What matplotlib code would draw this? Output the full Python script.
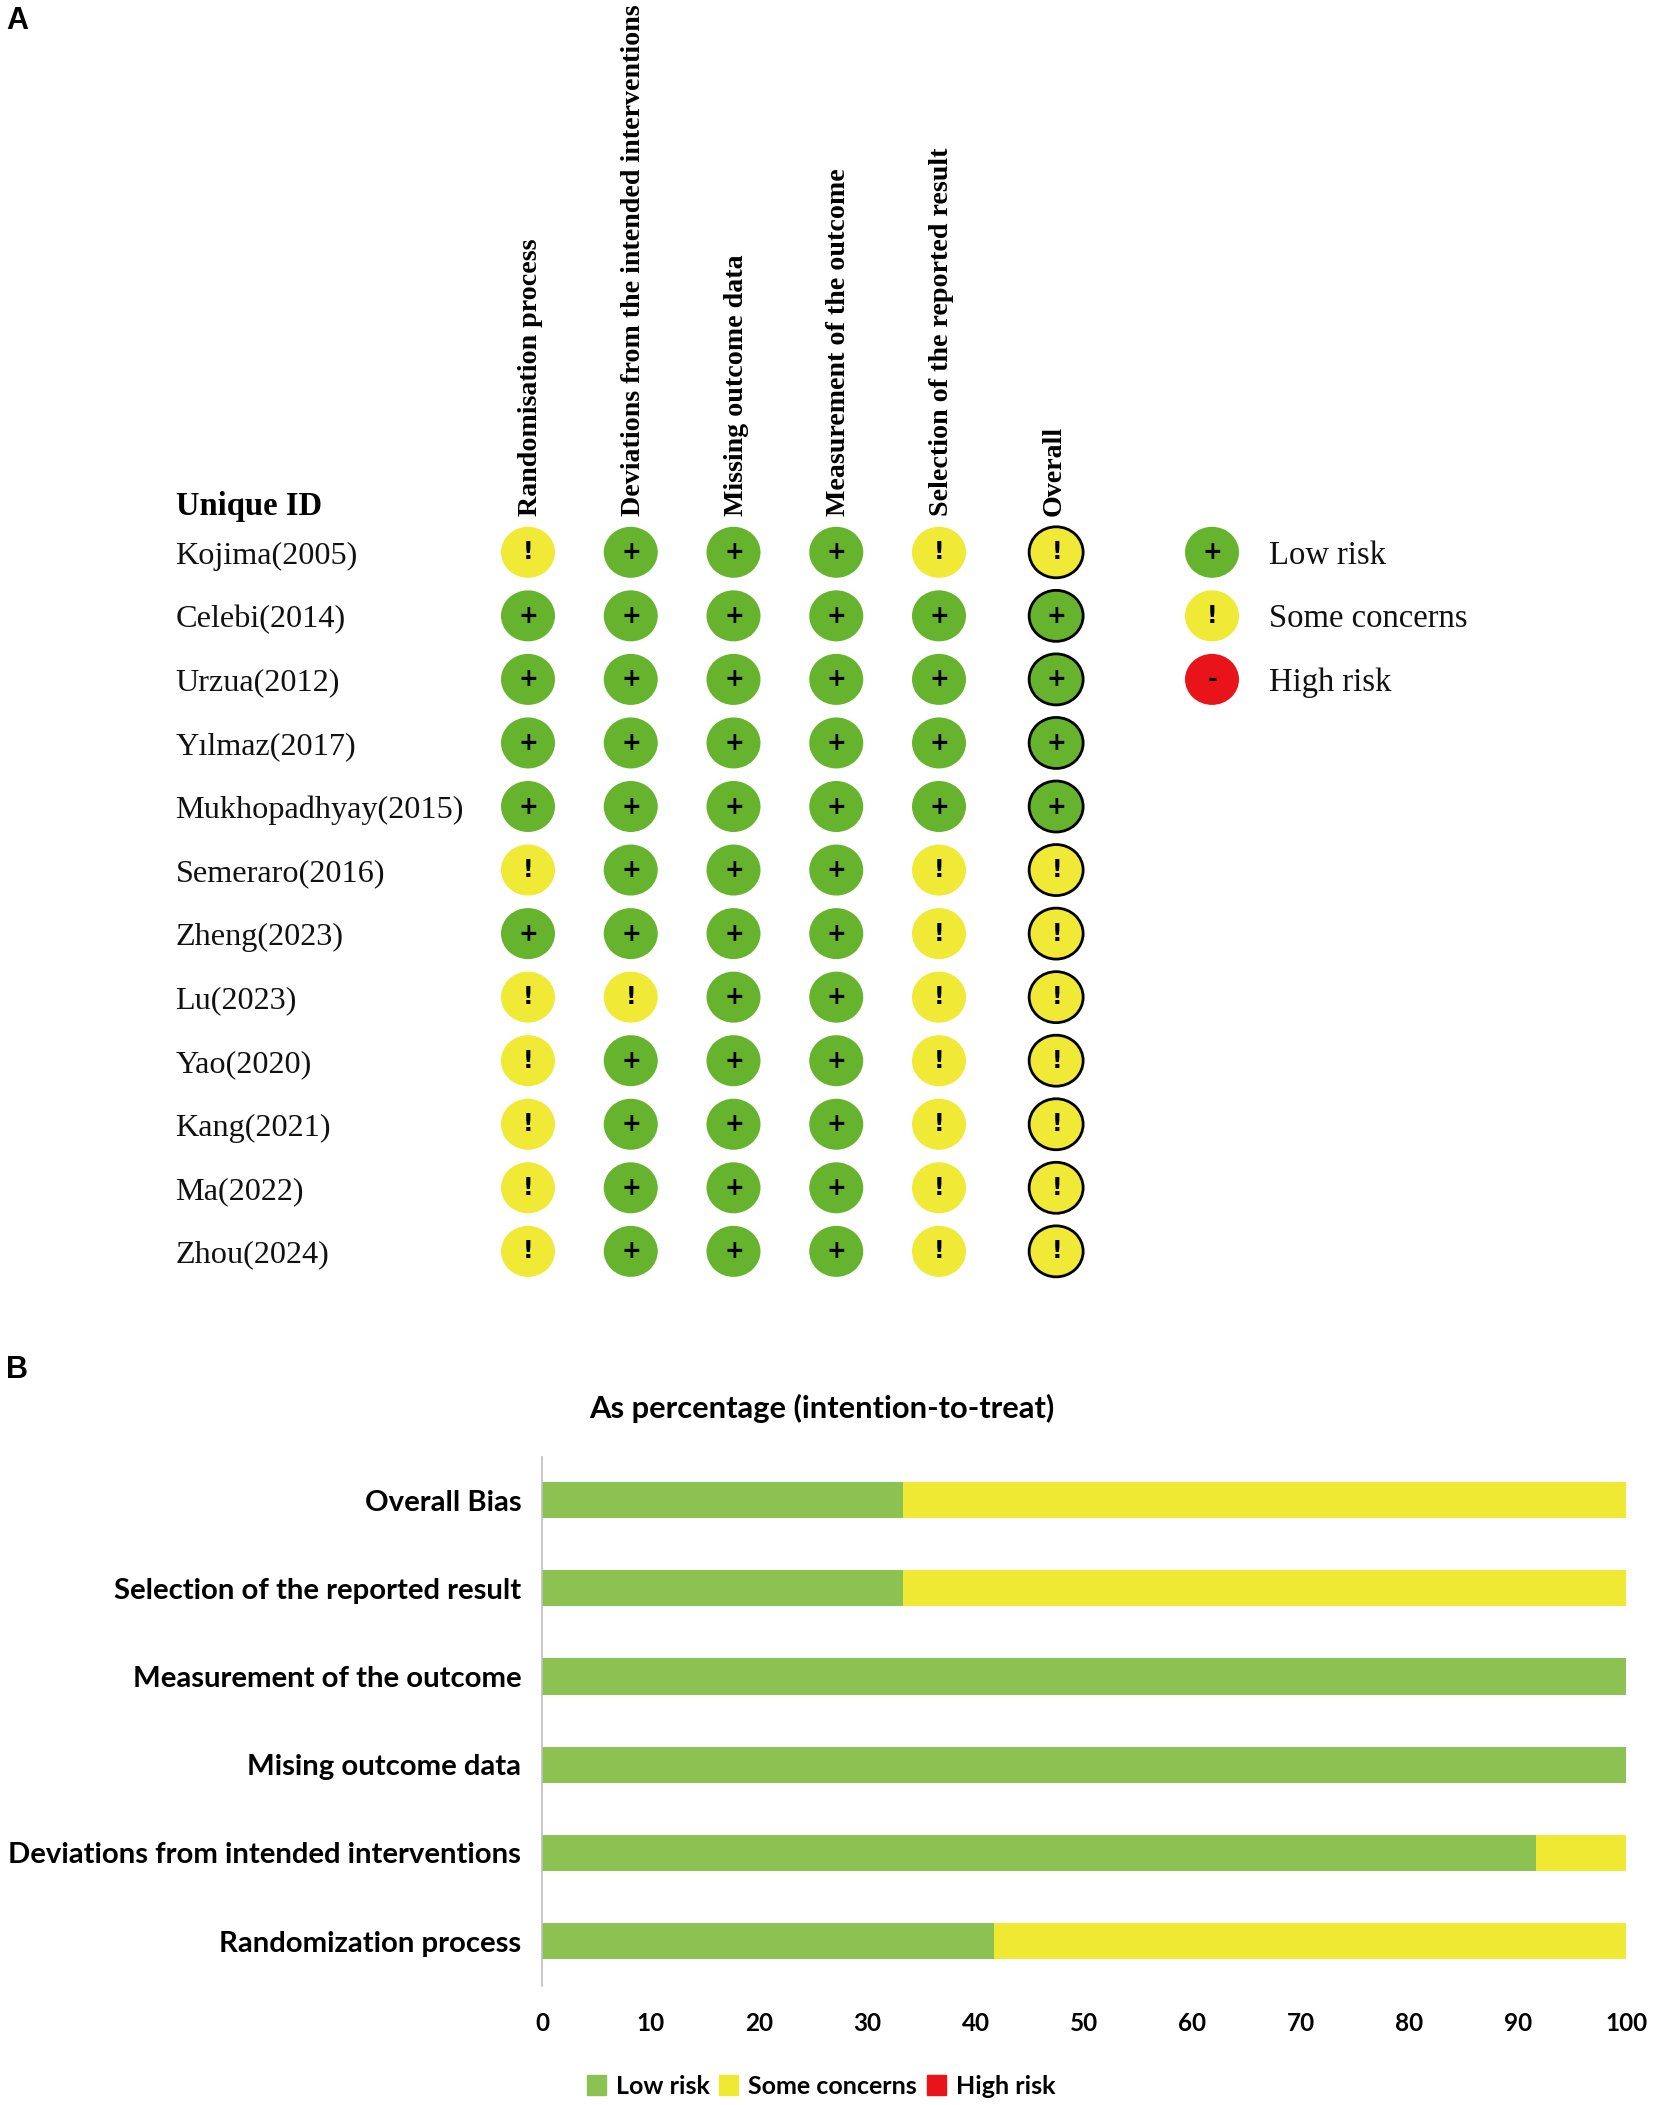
import matplotlib
matplotlib.use("Agg")
import matplotlib.pyplot as plt
from matplotlib.patches import Ellipse, Patch

# Panel A data
studies = ["Kojima(2005)", "Celebi(2014)", "Urzua(2012)", "Yılmaz(2017)", "Mukhopadhyay(2015)",
           "Semeraro(2016)", "Zheng(2023)", "Lu(2023)", "Yao(2020)", "Kang(2021)", "Ma(2022)", "Zhou(2024)"]
domains = ["Randomisation process", "Deviations from the intended interventions",
           "Missing outcome data", "Measurement of the outcome",
           "Selection of the reported result", "Overall"]
randomisation = ["!", "+", "+", "+", "+", "!", "+", "!", "!", "!", "!", "!"]
deviations = ["+", "+", "+", "+", "+", "+", "+", "!", "+", "+", "+", "+"]
missing = ["+"] * 12
measurement = ["+"] * 12
selection = ["!", "+", "+", "+", "+", "!", "!", "!", "!", "!", "!", "!"]
overall = ["!", "+", "+", "+", "+", "!", "!", "!", "!", "!", "!", "!"]
judgements = [randomisation, deviations, missing, measurement, selection, overall]
legend_symbols = ["+", "!", "-"]
legend_names = ["Low risk", "Some concerns", "High risk"]

# Panel B data
bias_labels = ["Randomization process", "Deviations from intended interventions", "Mising outcome data",
               "Measurement of the outcome", "Selection of the reported result", "Overall Bias"]
low_risk = [41.7, 91.7, 100, 100, 33.3, 33.3]
some_concerns = [58.3, 8.3, 0, 0, 66.7, 66.7]
high_risk = [0, 0, 0, 0, 0, 0]
pct_ticks = list(range(0, 101, 10))

dot_colors = {"+": "#66B32D", "!": "#F0E935", "-": "#E8141A"}
bar_green = "#8BC251"
bar_yellow = "#EFE934"
bar_red = "#E8141A"
SERIF = "Liberation Serif"
CALIBRI = "Lato"

W, H = 1654, 2105
fig = plt.figure(figsize=(W / 100, H / 100), dpi=100, facecolor="white")

# top panel: one unit = one column / one row
col_px = 102.75
row_px = 63.55
x0_px, y0_px = 528, 552.3
top_h = 1340
ax = fig.add_axes([0, 1 - top_h / H, 1, top_h / H])
ax.set_xlim(-x0_px / col_px, (W - x0_px) / col_px)
ax.set_ylim((top_h - y0_px) / row_px, -y0_px / row_px)
ax.axis("off")

col_pos = [0, 1, 2, 3, 4, 5.14]
dot_w = 54 / col_px
dot_h = 51 / row_px


def draw_dot(x, y, sym, edge=False):
    ax.add_patch(Ellipse((x, y), dot_w, dot_h, facecolor=dot_colors[sym],
                         edgecolor="black" if edge else "none", linewidth=2 if edge else 0))
    ax.text(x + 0.005, y, sym, ha="center", va="center", fontsize=17, fontweight="bold",
            family="DejaVu Sans", color="black")


for c, (xpos, col) in enumerate(zip(col_pos, judgements)):
    for r, sym in enumerate(col):
        draw_dot(xpos, r, sym, edge=c == 5)
    ax.text(xpos + 0.025 - (0.04 if c == 5 else 0), -0.57, domains[c], rotation=90, ha="center", va="bottom",
            fontsize=20.2, fontweight="bold", family=SERIF)

label_x = -3.43
for r, name in enumerate(studies):
    ax.text(label_x, r + 0.06, name, ha="left", va="center", fontsize=23.2, family=SERIF, color="#111111")
ax.text(label_x, -0.72, "Unique ID", ha="left", va="center", fontsize=23.5, fontweight="bold", family=SERIF)

legend_x = 6.657
for r, (sym, name) in enumerate(zip(legend_symbols, legend_names)):
    draw_dot(legend_x, r, sym)
    ax.text(7.21, r + 0.05, name, ha="left", va="center", fontsize=23.5, family=SERIF, color="#111111")

# panel letters
fig.text(6 / W, 1 - 21 / H, "A", fontsize=22, fontweight="bold", family="Liberation Sans", va="center")
fig.text(6 / W, 1 - 1370 / H, "B", fontsize=22, fontweight="bold", family="Liberation Sans", va="center")

# bottom panel
bx0, bx1 = 542, 1626
by0, by1 = 1457, 1986
ax2 = fig.add_axes([bx0 / W, 1 - by1 / H, (bx1 - bx0) / W, (by1 - by0) / H])
ypos = list(range(len(bias_labels)))
left2 = low_risk
left3 = [a + b for a, b in zip(low_risk, some_concerns)]
ax2.barh(ypos, low_risk, height=0.41, color=bar_green, label="Low risk")
ax2.barh(ypos, some_concerns, left=left2, height=0.41, color=bar_yellow, label="Some concerns")
ax2.barh(ypos, high_risk, left=left3, height=0.41, color=bar_red, label="High risk")
ax2.set_xlim(0, 100)
ax2.set_ylim(-0.51, 5.49)
ax2.set_yticks(ypos)
ax2.set_yticklabels(bias_labels, fontsize=21.1, fontweight="bold", family=CALIBRI)
ax2.set_xticks(pct_ticks)
ax2.set_xticklabels(pct_ticks, fontsize=17.5, fontweight="bold", family=CALIBRI)
ax2.tick_params(axis="y", length=0, pad=15)
ax2.tick_params(axis="x", length=0, pad=19)
for s in ["top", "right", "bottom"]:
    ax2.spines[s].set_visible(False)
ax2.spines["left"].set_color("#BFBFBF")
ax2.spines["left"].set_linewidth(1.2)

fig.text(822 / W, 1 - 1408 / H, "As percentage (intention-to-treat)", fontsize=22.2, fontweight="bold",
         family=CALIBRI, ha="center", va="center")

handles = [Patch(color=bar_green), Patch(color=bar_yellow), Patch(color=bar_red)]
fig.legend(handles, legend_names, loc="center", bbox_to_anchor=(821 / W, 1 - 2086 / H), ncol=3, frameon=False,
           prop={"family": CALIBRI, "weight": "bold", "size": 18}, handlelength=0.75, handleheight=0.85,
           handletextpad=0.4, columnspacing=0.4, borderpad=0)

fig.savefig("out.png", dpi=100)
